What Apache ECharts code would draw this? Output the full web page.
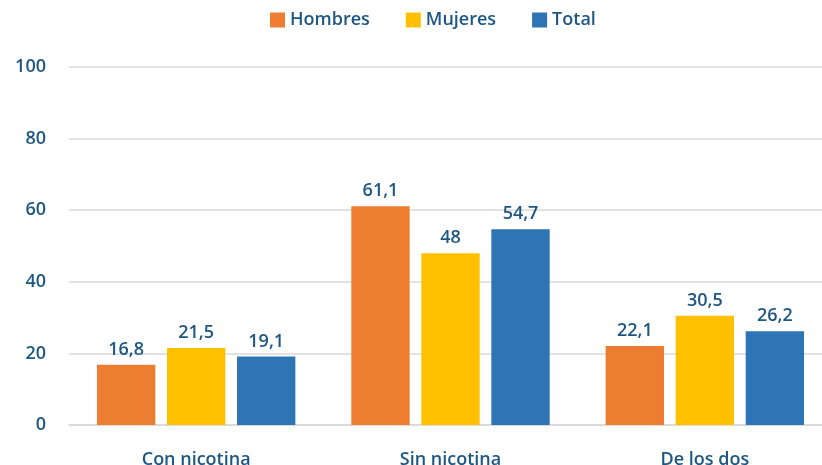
<!DOCTYPE html>
<html>
<head>
<meta charset="utf-8">
<script src="https://cdn.jsdelivr.net/npm/echarts@6/dist/echarts.min.js"></script>
<style>
html, body { margin: 0; padding: 0; background: #fff; overflow: hidden; }
#chart { width: 832px; height: 465px; }
</style>
</head>
<body>
<div id="chart"></div>
<script>
var categorias = ['Con nicotina', 'Sin nicotina', 'De los dos'];
var hombres = [16.8, 61.1, 22.1];
var mujeres = [21.5, 48, 30.5];
var total = [19.1, 54.7, 26.2];
var textColor = '#1F5783';

function coma(p) {
	return String(p.value).replace('.', ',');
}

var chartDom = document.getElementById('chart');
var myChart = echarts.init(chartDom);
var option;

function serie(nombre, datos, color) {
	return {
		name : nombre,
		type : 'bar',
		data : datos,
		barGap : '20%',
		barCategoryGap : '22%',
		itemStyle : { color : color },
		label : {
			show : true,
			position : 'top',
			distance : 6,
			color : textColor,
			fontSize : 18,
			fontWeight : 600,
			fontFamily : 'Open Sans',
			formatter : coma
		}
	};
}

option = {
	animation : false,
	legend : {
		top : 6,
		left : 265,
		itemWidth : 15,
		itemHeight : 15,
		itemGap : 36,
		icon : 'rect',
		textStyle : {
			color : textColor,
			fontSize : 18,
			fontWeight : 600,
			fontFamily : 'Open Sans'
		}
	},
	grid : {
		left : 69,
		right : 0,
		top : 67,
		bottom : 40,
		outerBoundsMode : 'none'
	},
	xAxis : {
		type : 'category',
		data : categorias,
		axisTick : { show : false },
		axisLine : { lineStyle : { color : '#D9D9D9', width : 1.5 } },
		axisLabel : {
			color : textColor,
			fontSize : 18,
			fontWeight : 600,
			fontFamily : 'Open Sans',
			margin : 26
		}
	},
	yAxis : {
		type : 'value',
		min : 0,
		max : 100,
		interval : 20,
		axisLabel : {
			color : textColor,
			fontSize : 18,
			fontWeight : 600,
			fontFamily : 'Open Sans',
			margin : 23
		},
		splitLine : { lineStyle : { color : '#D9D9D9', width : 1.5 } }
	},
	series : [
		serie('Hombres', hombres, '#ED7D31'),
		serie('Mujeres', mujeres, '#FFC000'),
		serie('Total', total, '#2E75B6')
	]
};

option && myChart.setOption(option);
</script>
</body>
</html>
